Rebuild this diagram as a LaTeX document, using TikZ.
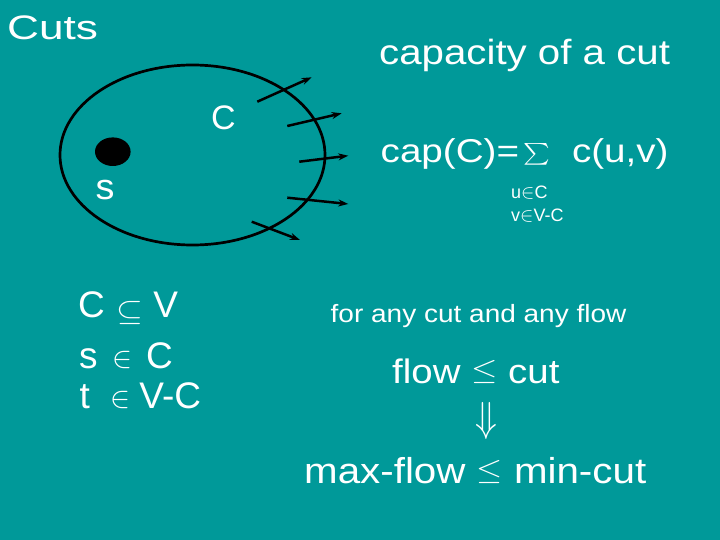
\RequirePackage{fix-cm}
\documentclass[tikz,border=0pt]{standalone}
\usepackage{fontspec}
\setmainfont{Liberation Sans}
\usepackage{graphicx}
\usetikzlibrary{arrows.meta,shapes.geometric}
\definecolor{bg}{RGB}{0,153,153}
\newcommand\ftxt[3]{\fontsize{#1}{#1}\selectfont\scalebox{#2}[1]{#3}}
\newcommand\smsym[3]{\raisebox{#2}{\fontsize{#1}{#1}\selectfont$#3$}}
\begin{document}
\begin{tikzpicture}[x=1pt,y=-1pt,
  txt/.style={text=white,inner sep=0pt,anchor=base west},
  cutarrow/.style={line width=2.5pt,-{Stealth[length=10pt,width=7pt]}}]
\fill[bg] (0,0) rectangle (720,540);
\useasboundingbox (0,0) rectangle (720,540);

% titles
\node[txt] (cuts) at (7,39.5) {\ftxt{34}{1.3}{Cuts}};
\node[txt] (capt) at (379,64.3) {\ftxt{35}{1.15}{capacity of a cut}};

% cut set
\node[draw=black,line width=2.7pt,ellipse,minimum width=265pt,minimum height=180pt,inner sep=0pt] (cutset) at (192.5,155) {};
\node[fill=black,ellipse,minimum width=35.6pt,minimum height=28.6pt,inner sep=0pt] (snode) at (112.8,151.7) {};
\node[txt] (clabel) at (211,130) {\ftxt{34}{1}{C}};
\node[txt] (slabel) at (95.5,200) {\ftxt{36}{1.05}{s}};

% arrows crossing the cut
\coordinate (a1s) at (257.3,101.7); \coordinate (a1e) at (311.7,77.3);
\coordinate (a2s) at (287.3,126);   \coordinate (a2e) at (341.7,113.3);
\coordinate (a3s) at (299.3,161.7); \coordinate (a3e) at (348.3,155.7);
\coordinate (a4s) at (287.3,197.7); \coordinate (a4e) at (348.3,204);
\coordinate (a5s) at (251.7,221.7); \coordinate (a5e) at (300,240);
\draw[cutarrow] (a1s) -- (a1e);
\draw[cutarrow] (a2s) -- (a2e);
\draw[cutarrow] (a3s) -- (a3e);
\draw[cutarrow] (a4s) -- (a4e);
\draw[cutarrow] (a5s) -- (a5e);

% capacity formula
\node[txt] (capeq) at (380.5,162.7) {\ftxt{33}{1.17}{cap(C)=}};
\node[text=white,inner sep=0pt,anchor=center] (sigma) at (536.7,154.2) {\resizebox*{26.7pt}{21.7pt}{$\textstyle\sum$}};
\node[txt] (cuv) at (571.8,162.7) {\ftxt{33}{1.17}{c(u,v)}};
\node[txt] (uinc) at (511,198.3) {\ftxt{18}{1.0}{u\smsym{20}{0pt}{\in}C}};
\node[txt] (vinvc) at (511,221.7) {\ftxt{18}{1.0}{v\smsym{20}{0pt}{\in}V-C}};

% left column
\node[txt] (l1) at (78,317) {\fontsize{37}{37}\selectfont C\hspace{11.5pt}\raisebox{-3pt}{\fontsize{30}{30}\selectfont\scalebox{1.15}[1]{$\subseteq$}}\hspace{10pt}V};
\node[txt] (l2) at (79,368.3) {\fontsize{37}{37}\selectfont s\hspace{15pt}\smsym{30}{0.5pt}{\in}\hspace{13.5pt}C};
\node[txt] (l3) at (79.5,408.3) {\fontsize{37}{37}\selectfont t\hspace{21pt}\smsym{30}{0.5pt}{\in}\hspace{8.5pt}V-C};

% right bottom
\node[txt] (forany) at (330.5,322.3) {\ftxt{25}{1.12}{for any cut and any flow}};
\node[txt] (flowcut) at (392,383.3) {\ftxt{34}{1.13}{flow \smsym{30}{4pt}{\leq} cut}};
\node[text=white,inner sep=0pt,anchor=center] (implies) at (486,421) {\fontsize{42}{42}\selectfont\scalebox{0.85}[1]{$\Downarrow$}};
\node[txt] (maxmin) at (304,483.3) {\ftxt{36}{1.12}{max-flow \smsym{30}{4pt}{\leq} min-cut}};
\end{tikzpicture}
\end{document}
